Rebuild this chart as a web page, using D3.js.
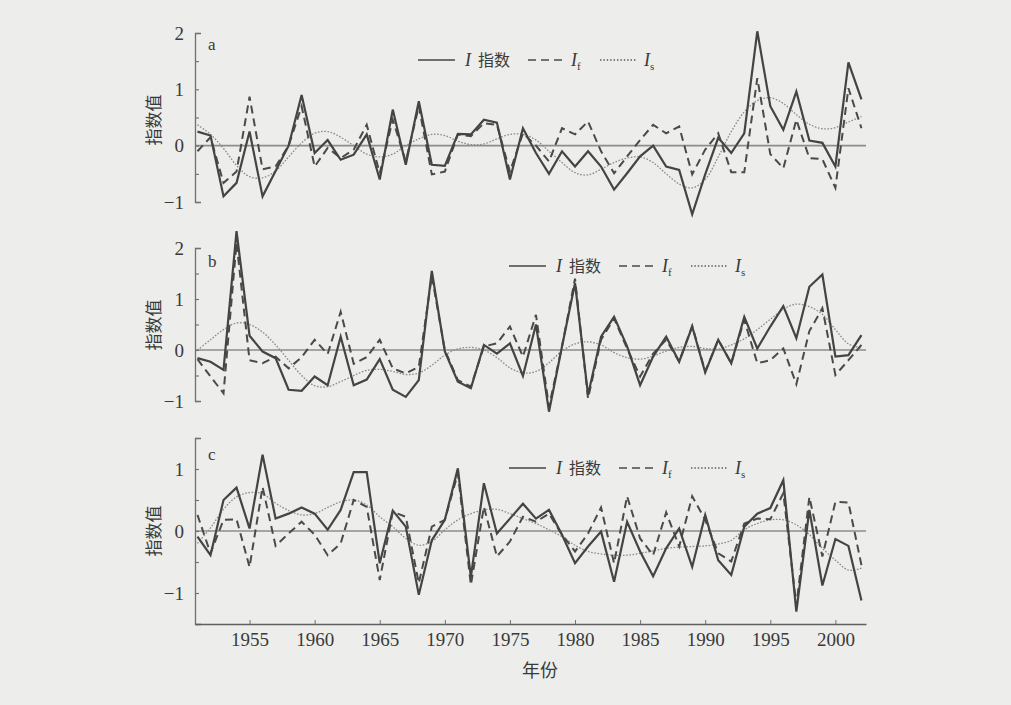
<!DOCTYPE html>
<html>
<head>
<meta charset="utf-8">
<script src="https://cdn.jsdelivr.net/npm/d3@7"></script>
<style>
  html, body { margin: 0; padding: 0; background: #ededeb; }
  svg { display: block; }
</style>
</head>
<body>
<div id="chart"></div>
<script>
// years on the x axis
const years = [1951, 1952, 1953, 1954, 1955, 1956, 1957, 1958, 1959, 1960,
  1961, 1962, 1963, 1964, 1965, 1966, 1967, 1968, 1969, 1970,
  1971, 1972, 1973, 1974, 1975, 1976, 1977, 1978, 1979, 1980,
  1981, 1982, 1983, 1984, 1985, 1986, 1987, 1988, 1989, 1990,
  1991, 1992, 1993, 1994, 1995, 1996, 1997, 1998, 1999, 2000,
  2001, 2002];
const yearTicks = [1955, 1960, 1965, 1970, 1975, 1980, 1985, 1990, 1995, 2000];

// panel a
const aI = [0.25, 0.18, -0.9, -0.66, 0.25, -0.9, -0.45, 0.0, 0.9, -0.13,
  0.1, -0.25, -0.16, 0.2, -0.6, 0.64, -0.34, 0.79, -0.34, -0.36,
  0.21, 0.2, 0.46, 0.41, -0.6, 0.31, -0.13, -0.5, -0.1, -0.37,
  -0.1, -0.37, -0.78, -0.49, -0.19, 0.0, -0.37, -0.43, -1.22, -0.51,
  0.14, -0.13, 0.22, 2.03, 0.7, 0.28, 0.96, 0.09, 0.05, -0.37,
  1.48, 0.82];
const aIf = [-0.1, 0.15, -0.66, -0.46, 0.87, -0.42, -0.37, 0.0, 0.7, -0.37,
  -0.04, -0.22, -0.07, 0.37, -0.49, 0.46, -0.28, 0.7, -0.51, -0.46,
  0.2, 0.17, 0.4, 0.37, -0.46, 0.22, 0.0, -0.28, 0.31, 0.2,
  0.43, -0.1, -0.49, -0.19, 0.1, 0.37, 0.22, 0.34, -0.51, -0.07,
  0.22, -0.47, -0.47, 1.2, -0.15, -0.4, 0.46, -0.22, -0.24, -0.75,
  1.02, 0.31];
const aIs = [0.37, 0.2, -0.05, -0.35, -0.55, -0.57, -0.45, -0.2, 0.05, 0.22,
  0.25, 0.15, 0.0, -0.15, -0.2, -0.15, 0.0, 0.12, 0.2, 0.18,
  0.08, 0.02, 0.03, 0.12, 0.2, 0.2, 0.1, -0.1, -0.3, -0.48,
  -0.52, -0.42, -0.3, -0.22, -0.2, -0.3, -0.5, -0.68, -0.75, -0.6,
  -0.2, 0.25, 0.6, 0.8, 0.85, 0.75, 0.55, 0.38, 0.3, 0.32,
  0.42, 0.52];

// panel b
const bI = [-0.16, -0.23, -0.39, 2.33, 0.28, -0.03, -0.16, -0.78, -0.8, -0.52,
  -0.69, 0.26, -0.69, -0.58, -0.18, -0.78, -0.92, -0.59, 1.55, -0.03,
  -0.62, -0.75, 0.1, -0.07, 0.13, -0.51, 0.5, -1.21, 0.07, 1.31,
  -0.88, 0.26, 0.65, 0.07, -0.69, -0.13, 0.26, -0.23, 0.46, -0.44,
  0.2, -0.26, 0.65, 0.03, 0.46, 0.86, 0.23, 1.24, 1.48, -0.13,
  -0.1, 0.29];
const bIf = [-0.18, -0.52, -0.85, 2.1, -0.2, -0.26, -0.13, -0.36, -0.14, 0.2,
  -0.08, 0.75, -0.27, -0.14, 0.2, -0.36, -0.46, -0.33, 1.45, 0.0,
  -0.59, -0.72, 0.07, 0.13, 0.46, -0.13, 0.69, -1.11, 0.07, 1.4,
  -0.95, 0.2, 0.62, 0.03, -0.52, -0.07, 0.2, -0.23, 0.47, -0.42,
  0.2, -0.26, 0.59, -0.26, -0.2, 0.03, -0.67, 0.37, 0.82, -0.49,
  -0.2, 0.1];
const bIs = [0.0, 0.2, 0.4, 0.53, 0.5, 0.35, 0.1, -0.2, -0.5, -0.7,
  -0.72, -0.62, -0.5, -0.4, -0.38, -0.42, -0.48, -0.45, -0.3, -0.1,
  0.02, 0.05, 0.0, -0.15, -0.35, -0.45, -0.42, -0.25, -0.02, 0.12,
  0.16, 0.1, -0.05, -0.15, -0.18, -0.12, -0.02, 0.05, 0.07, 0.03,
  0.02, 0.1, 0.22, 0.4, 0.6, 0.8, 0.9, 0.85, 0.7, 0.4,
  0.12, 0.04];

// panel c
const cI = [-0.09, -0.39, 0.5, 0.7, 0.04, 1.23, 0.2, 0.28, 0.38, 0.28,
  0.02, 0.34, 0.95, 0.95, -0.52, 0.33, 0.07, -1.03, -0.15, 0.18,
  1.01, -0.74, 0.77, -0.04, 0.2, 0.44, 0.2, 0.34, -0.06, -0.52,
  -0.25, -0.01, -0.82, 0.15, -0.33, -0.73, -0.28, 0.04, -0.58, 0.26,
  -0.47, -0.71, 0.07, 0.28, 0.37, 0.82, -1.3, 0.34, -0.88, -0.13,
  -0.24, -1.12];
const cIf = [0.26, -0.36, 0.18, 0.19, -0.58, 0.71, -0.24, -0.04, 0.15, -0.06,
  -0.39, -0.2, 0.5, 0.39, -0.79, 0.31, 0.23, -0.84, 0.07, 0.18,
  0.93, -0.87, 0.39, -0.41, -0.17, 0.23, 0.15, 0.28, -0.06, -0.33,
  -0.04, 0.38, -0.52, 0.56, -0.12, -0.39, 0.3, -0.25, 0.56, 0.18,
  -0.36, -0.49, 0.12, 0.2, 0.19, 0.61, -1.2, 0.55, -0.41, 0.47,
  0.46, -0.55];
const cIs = [-0.2, 0.05, 0.35, 0.55, 0.62, 0.6, 0.45, 0.33, 0.26, 0.28,
  0.38, 0.47, 0.5, 0.42, 0.23, 0.07, -0.12, -0.23, -0.17, 0.02,
  0.18, 0.28, 0.34, 0.35, 0.28, 0.2, 0.12, 0.02, -0.09, -0.23,
  -0.33, -0.37, -0.39, -0.39, -0.36, -0.32, -0.28, -0.26, -0.25, -0.24,
  -0.21, -0.15, 0.02, 0.12, 0.18, 0.18, 0.1, -0.06, -0.28, -0.47,
  -0.63, -0.6];

const yTitle = "指数值";
const xTitle = "年份";

const width = 1011, height = 705;
const ink = "#3a3a3a";
const serif = "'Liberation Serif', 'DejaVu Serif', serif";
const cjk = "'Noto Sans CJK SC', sans-serif";

const svg = d3.select("#chart").append("svg")
    .attr("width", width)
    .attr("height", height);

svg.append("rect")
    .attr("width", width)
    .attr("height", height)
    .attr("fill", "#ededeb");

const x = d3.scaleLinear().domain([1950.81, 2002.35]).range([195, 866]);

const panels = [
    {name: "a", data: [aI, aIf, aIs], domain: [-1, 2], top: 33, bottom: 202, legendX: 418, legendY: 60, letterY: 50, titleY: 120},
    {name: "b", data: [bI, bIf, bIs], domain: [-1, 2], top: 248, bottom: 401, legendX: 509, legendY: 266, letterY: 267, titleY: 325},
    {name: "c", data: [cI, cIf, cIs], domain: [-1.5, 1.5], top: 438, bottom: 624, legendX: 509, legendY: 468, letterY: 460, titleY: 531}
];

const styles = [
    {color: "#444", width: 2.2, dash: null},
    {color: "#4a4a4a", width: 2, dash: "8,5"},
    {color: "#8a8a8a", width: 1.3, dash: "1.6,1.6"}
];

panels.forEach(p => {
    const y = d3.scaleLinear().domain(p.domain).range([p.bottom, p.top]);
    const g = svg.append("g");

    // zero reference line
    g.append("line")
        .attr("x1", x.range()[0])
        .attr("x2", x.range()[1])
        .attr("y1", y(0))
        .attr("y2", y(0))
        .attr("stroke", "#8d8d8d")
        .attr("stroke-width", 1.6);

    // y axis, ticks pointing inward
    const ticks = d3.range(p.domain[0], p.domain[1] + 0.01, 0.5);
    const yAxis = d3.axisLeft(y)
        .tickValues(ticks)
        .tickSizeInner(-4)
        .tickSizeOuter(-6)
        .tickPadding(11)
        .tickFormat(d => Number.isInteger(d) ? d3.format("d")(d) : "");
    const ax = g.append("g")
        .attr("transform", "translate(" + x.range()[0] + ",0)")
        .call(yAxis);
    ax.select(".domain").attr("stroke", "#707070").attr("stroke-width", 1.3);
    ax.selectAll(".tick line").attr("stroke", "#707070").attr("stroke-width", 1.1);
    ax.selectAll("text")
        .attr("fill", ink)
        .style("font-family", serif)
        .style("font-size", "19px");

    // series: smooth first, then I_f, then I
    [2, 1, 0].forEach(k => {
        const line = d3.line()
            .x((d, i) => x(years[i]))
            .y(d => y(d));
        if (k === 2) line.curve(d3.curveCatmullRom);
        g.append("path")
            .datum(p.data[k])
            .attr("d", line)
            .attr("fill", "none")
            .attr("stroke", styles[k].color)
            .attr("stroke-width", styles[k].width)
            .attr("stroke-dasharray", styles[k].dash)
            .attr("stroke-linejoin", "miter");
    });

    // panel letter
    g.append("text")
        .attr("x", 208)
        .attr("y", p.letterY)
        .attr("fill", ink)
        .style("font-family", serif)
        .style("font-size", "17px")
        .text(p.name);

    // y title
    g.append("text")
        .attr("transform", "translate(152," + p.titleY + ") rotate(-90)")
        .attr("text-anchor", "middle")
        .attr("dominant-baseline", "central")
        .attr("fill", ink)
        .style("font-family", cjk)
        .style("font-size", "17px")
        .text(yTitle);

    // legend
    const lg = g.append("g").attr("transform", "translate(" + p.legendX + "," + p.legendY + ")");
    const samples = [[0, 37], [110, 149], [182, 219]];
    samples.forEach((s, k) => {
        lg.append("line")
            .attr("x1", s[0]).attr("x2", s[1])
            .attr("stroke", k === 2 ? "#555" : styles[k].color)
            .attr("stroke-width", k === 2 ? 1.3 : 1.6)
            .attr("stroke-dasharray", k === 2 ? "1.4,2" : styles[k].dash);
    });
    const labels = [{x: 47, sub: null, tail: "指数"}, {x: 153, sub: "f"}, {x: 226, sub: "s"}];
    labels.forEach(l => {
        const t = lg.append("text")
            .attr("x", l.x)
            .attr("y", 6)
            .attr("fill", ink)
            .style("font-family", serif)
            .style("font-size", "18px");
        t.append("tspan").style("font-style", "italic").text("I");
        if (l.sub) {
            t.append("tspan").attr("dy", 4).style("font-size", "11px").text(l.sub);
        }
        if (l.tail) {
            lg.append("text")
                .attr("x", l.x + 13)
                .attr("y", 6)
                .attr("fill", ink)
                .style("font-family", cjk)
                .style("font-size", "16px")
                .text(l.tail);
        }
    });

    // bottom x axis on last panel only
    if (p.name === "c") {
        const xAxis = d3.axisBottom(x)
            .tickValues(yearTicks)
            .tickSizeInner(-4)
            .tickSizeOuter(0)
            .tickPadding(9)
            .tickFormat(d3.format("d"));
        const bx = g.append("g")
            .attr("transform", "translate(0," + p.bottom + ")")
            .call(xAxis);
        bx.select(".domain").attr("stroke", "#606060").attr("stroke-width", 1.6);
        bx.selectAll(".tick line").attr("stroke", "#707070");
        bx.selectAll("text")
            .attr("fill", ink)
            .style("font-family", serif)
            .style("font-size", "19px");
    }
});

svg.append("text")
    .attr("x", 540)
    .attr("y", 677)
    .attr("text-anchor", "middle")
    .attr("fill", ink)
    .style("font-family", cjk)
    .style("font-size", "18px")
    .text(xTitle);
</script>
</body>
</html>
